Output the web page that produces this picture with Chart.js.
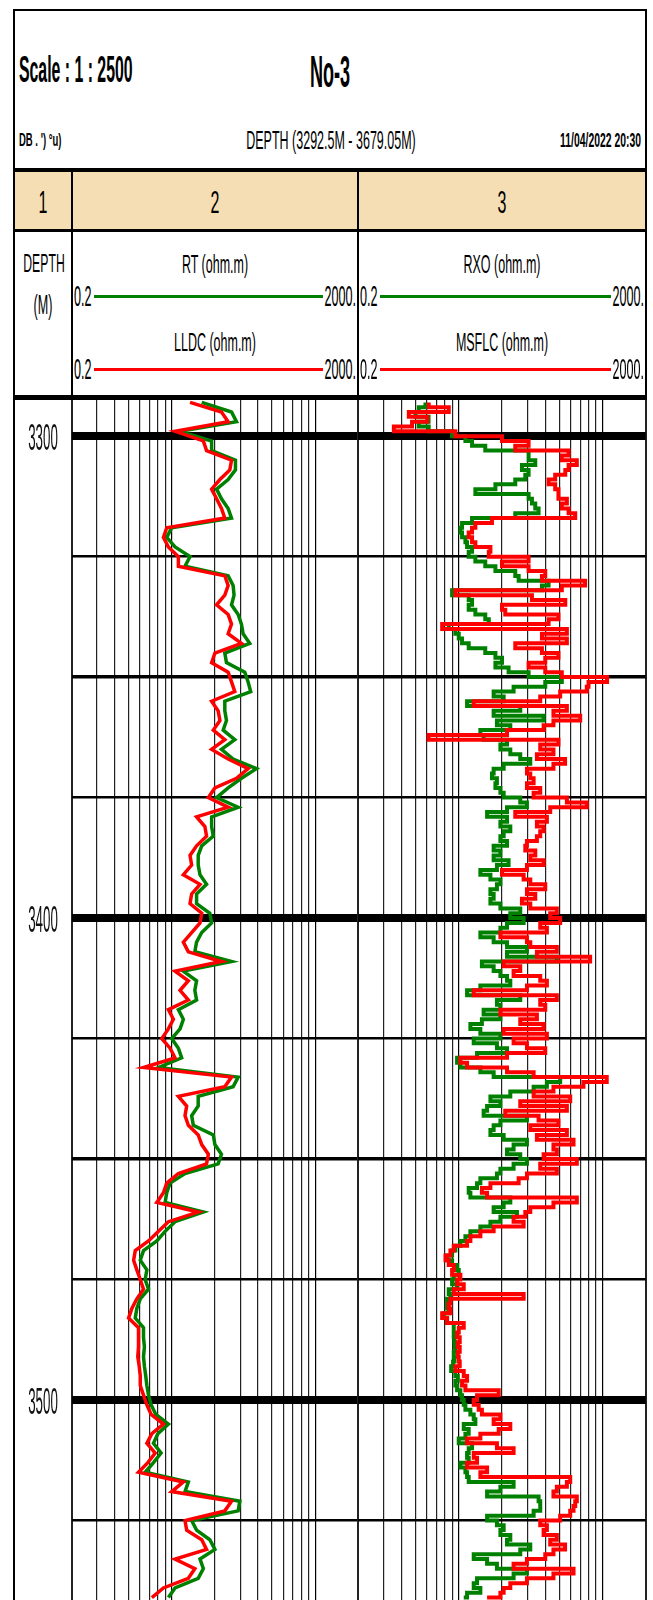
<!DOCTYPE html>
<html>
<head>
<meta charset="utf-8">
<script src="https://cdn.jsdelivr.net/npm/chart.js@4.4.1/dist/chart.umd.min.js"></script>
<style>
  html, body { margin: 0; padding: 0; background: #fff; }
  body { width: 653px; height: 1600px; position: relative; overflow: hidden;
         font-family: "Liberation Sans", Arial, sans-serif; color: #000; }
  .frame { position: absolute; left: 13px; top: 9px; width: 634px; height: 1640px;
           border: 2px solid #000; box-sizing: border-box; }
  .bar { position: absolute; background: #000; }
  .t { position: absolute; width: 400px; white-space: nowrap; line-height: 1; }
  .c { text-align: center; transform-origin: 50% 50%; }
  .l { text-align: left; transform-origin: 0 50%; }
  .r { text-align: right; transform-origin: 100% 50%; }
  canvas { position: absolute; top: 400px; }
</style>
</head>
<body>
<div class="frame"></div>
<canvas id="track12" width="360" height="1200" style="left:0px"></canvas>
<canvas id="track3" width="297" height="1200" style="left:356px"></canvas>
<script>
// ---- log data ----
// track 2 (RT / LLDC), sampled every 2 m
const DEPTH_2M = [
  3293, 3295, 3297, 3299, 3301, 3303, 3305, 3307, 3309, 3311,
  3313, 3315, 3317, 3319, 3321, 3323, 3325, 3327, 3329, 3331,
  3333, 3335, 3337, 3339, 3341, 3343, 3345, 3347, 3349, 3351,
  3353, 3355, 3357, 3359, 3361, 3363, 3365, 3367, 3369, 3371,
  3373, 3375, 3377, 3379, 3381, 3383, 3385, 3387, 3389, 3391,
  3393, 3395, 3397, 3399, 3401, 3403, 3405, 3407, 3409, 3411,
  3413, 3415, 3417, 3419, 3421, 3423, 3425, 3427, 3429, 3431,
  3433, 3435, 3437, 3439, 3441, 3443, 3445, 3447, 3449, 3451,
  3453, 3455, 3457, 3459, 3461, 3463, 3465, 3467, 3469, 3471,
  3473, 3475, 3477, 3479, 3481, 3483, 3485, 3487, 3489, 3491,
  3493, 3495, 3497, 3499, 3501, 3503, 3505, 3507, 3509, 3511,
  3513, 3515, 3517, 3519, 3521, 3523, 3525, 3527, 3529, 3531,
  3533, 3535, 3537, 3539, 3541
];
const RT = [
  13.1, 34.1, 40.0, 6.53, 18.0, 18.0, 38.7, 38.7, 30.6, 21.1,
  24.7, 30.6, 34.1, 5.0, 4.26, 5.56, 8.99, 7.66, 30.6, 35.9,
  37.0, 34.1, 42.2, 46.9, 49.5, 61.2, 27.5, 29.0, 52.2, 58.1,
  63.2, 27.5, 27.5, 29.0, 26.1, 37.9, 24.7, 35.9, 75.9, 46.9,
  30.6, 21.1, 42.2, 18.0, 18.0, 19.0, 13.1, 11.7, 11.7, 12.4,
  15.3, 11.1, 11.1, 17.0, 18.0, 13.1, 11.1, 10.5, 34.1, 7.26,
  11.1, 10.5, 11.1, 6.19, 7.26, 6.53, 5.0, 6.19, 6.88, 3.27,
  42.2, 35.9, 11.7, 11.7, 9.48, 10.0, 19.0, 20.0, 24.7, 22.2,
  7.66, 4.74, 4.26, 4.04, 13.8, 5.56, 4.04, 3.10, 2.02, 1.82,
  2.25, 2.13, 2.37, 1.82, 1.63, 1.55, 2.02, 2.02, 2.08, 2.02,
  2.08, 2.17, 2.25, 2.37, 2.58, 3.0, 4.49, 3.2, 2.78, 3.55,
  2.78, 2.13, 8.52, 7.66, 44.5, 42.2, 9.48, 11.1, 17.0, 20.0,
  12.4, 13.8, 11.7, 5.56, 4.49
];
const LLDC = [
  9.0, 24.7, 30.6, 5.56, 13.8, 15.3, 34.1, 32.3, 23.5, 18.0,
  21.1, 24.7, 27.5, 4.26, 3.83, 4.49, 6.19, 6.19, 27.5, 30.6,
  27.5, 21.1, 30.6, 34.1, 30.6, 46.9, 20.0, 18.0, 30.6, 34.1,
  37.9, 18.0, 22.2, 23.5, 19.0, 27.5, 18.0, 30.6, 58.1, 40.0,
  20.0, 16.2, 30.6, 11.1, 14.5, 15.3, 11.1, 8.99, 9.48, 7.26,
  12.4, 9.48, 8.99, 13.1, 12.4, 9.48, 7.26, 8.52, 24.7, 5.56,
  8.52, 6.53, 8.52, 4.49, 5.27, 4.49, 3.63, 4.74, 5.56, 2.02,
  34.1, 27.5, 6.19, 8.08, 7.66, 8.52, 11.7, 13.1, 16.2, 15.3,
  6.19, 4.26, 3.83, 3.10, 11.7, 4.49, 3.27, 2.37, 1.55, 1.47,
  1.63, 1.82, 2.02, 1.63, 1.39, 1.25, 1.72, 1.72, 1.72, 1.68,
  1.76, 1.82, 1.82, 2.02, 2.25, 2.58, 3.83, 2.64, 2.25, 2.94,
  2.32, 1.72, 7.26, 5.0, 34.1, 27.5, 7.66, 8.08, 13.1, 15.3,
  5.56, 10.5, 8.52, 3.83, 2.64
];

// track 3 (RXO / MSFLC), sampled every 1 m
const DEPTH_1M = [
  3293, 3294, 3295, 3296, 3297, 3298, 3299, 3300, 3301, 3302,
  3303, 3304, 3305, 3306, 3307, 3308, 3309, 3310, 3311, 3312,
  3313, 3314, 3315, 3316, 3317, 3318, 3319, 3320, 3321, 3322,
  3323, 3324, 3325, 3326, 3327, 3328, 3329, 3330, 3331, 3332,
  3333, 3334, 3335, 3336, 3337, 3338, 3339, 3340, 3341, 3342,
  3343, 3344, 3345, 3346, 3347, 3348, 3349, 3350, 3351, 3352,
  3353, 3354, 3355, 3356, 3357, 3358, 3359, 3360, 3361, 3362,
  3363, 3364, 3365, 3366, 3367, 3368, 3369, 3370, 3371, 3372,
  3373, 3374, 3375, 3376, 3377, 3378, 3379, 3380, 3381, 3382,
  3383, 3384, 3385, 3386, 3387, 3388, 3389, 3390, 3391, 3392,
  3393, 3394, 3395, 3396, 3397, 3398, 3399, 3400, 3401, 3402,
  3403, 3404, 3405, 3406, 3407, 3408, 3409, 3410, 3411, 3412,
  3413, 3414, 3415, 3416, 3417, 3418, 3419, 3420, 3421, 3422,
  3423, 3424, 3425, 3426, 3427, 3428, 3429, 3430, 3431, 3432,
  3433, 3434, 3435, 3436, 3437, 3438, 3439, 3440, 3441, 3442,
  3443, 3444, 3445, 3446, 3447, 3448, 3449, 3450, 3451, 3452,
  3453, 3454, 3455, 3456, 3457, 3458, 3459, 3460, 3461, 3462,
  3463, 3464, 3465, 3466, 3467, 3468, 3469, 3470, 3471, 3472,
  3473, 3474, 3475, 3476, 3477, 3478, 3479, 3480, 3481, 3482,
  3483, 3484, 3485, 3486, 3487, 3488, 3489, 3490, 3491, 3492,
  3493, 3494, 3495, 3496, 3497, 3498, 3499, 3500, 3501, 3502,
  3503, 3504, 3505, 3506, 3507, 3508, 3509, 3510, 3511, 3512,
  3513, 3514, 3515, 3516, 3517, 3518, 3519, 3520, 3521, 3522,
  3523, 3524, 3525, 3526, 3527, 3528, 3529, 3530, 3531, 3532,
  3533, 3534, 3535, 3536, 3537, 3538, 3539, 3540, 3541
];
const MSFLC = [
  1.91, 3.63, 1.01, 1.82, 1.12, 0.625, 4.49, 20.0, 46.9, 30.6,
  169, 136, 220, 169, 152, 110, 89, 110, 122, 122,
  160, 136, 169, 209, 14.5, 8.52, 7.66, 6.88, 7.66, 8.52,
  13.8, 13.1, 46.9, 20.0, 46.9, 80, 71.9, 287, 136, 4.49,
  52.2, 152, 20.0, 22.2, 122, 89, 2.94, 160, 71.9, 160,
  30.6, 71.9, 122, 80, 46.9, 80, 136, 580, 320, 303,
  129, 68.1, 8.08, 160, 104, 245, 104, 75.9, 23.5, 1.9,
  122, 68.1, 104, 61.2, 151, 104, 44.5, 49.5, 55.1, 44.5,
  68.1, 55.1, 160, 303, 93.8, 30.6, 84.3, 61.2, 75.9, 68.1,
  61.2, 44.5, 42.2, 58.1, 49.5, 75.9, 44.5, 20.0, 40.0, 49.5,
  80.0, 44.5, 58.1, 37.9, 49.5, 116, 93.8, 129, 68.1, 84.3,
  19.0, 44.5, 49.5, 116, 61.2, 337, 21.1, 35.9, 29.0, 68.1,
  84.3, 44.5, 8.08, 116, 68.1, 80.0, 19.0, 61.2, 35.9, 75.9,
  21.1, 84.3, 29.0, 44.5, 80.0, 23.5, 5.27, 6.53, 23.5, 55.1,
  574, 272, 104, 55.1, 178, 35.9, 160, 22.2, 64.6, 122,
  49.5, 160, 61.2, 198, 104, 116, 75.9, 220, 68.1, 116,
  44.5, 34.1, 13.8, 10.5, 12.4, 220, 104, 49.5, 42.2, 29.0,
  40.0, 15.3, 10.0, 7.26, 6.53, 4.26, 3.83, 3.27, 3.63, 4.26,
  4.04, 5.27, 4.74, 5.87, 4.26, 40.0, 3.83, 3.63, 3.83, 2.94,
  3.44, 5.87, 5.0, 4.74, 5.16, 4.85, 5.16, 4.85, 5.0, 5.16,
  4.49, 5.87, 6.53, 5.56, 6.19, 18.0, 8.99, 8.08, 9.48, 10.5,
  19.0, 15.3, 26.1, 18.0, 10.0, 6.53, 17.0, 29.0, 8.08, 8.99,
  6.53, 12.4, 10.0, 178, 160, 116, 104, 220, 209, 198,
  178, 129, 68.1, 84.3, 75.9, 116, 93.8, 151, 104, 80.0,
  44.5, 29.0, 198, 104, 44.5, 26.1, 21.1, 19.0, 12.4
];
const RXO = [
  1.72, 1.39, 1.25, 1.9, 1.39, 1.91, 4.04, 6.19, 7.66, 11.7,
  46.9, 46.9, 58.1, 37.9, 46.9, 42.2, 30.6, 16.2, 8.52, 46.9,
  52.2, 58.1, 64.6, 30.6, 7.66, 5.56, 5.27, 5.56, 6.19, 6.53,
  7.66, 6.88, 8.52, 11.7, 16.2, 30.6, 34.1, 89, 71.9, 4.04,
  6.88, 7.66, 6.88, 8.52, 11.7, 13.1, 3.63, 4.49, 5.0, 5.56,
  6.88, 11.7, 16.2, 20.0, 16.2, 24.7, 46.9, 136, 80, 29.0,
  15.3, 21.1, 6.53, 35.9, 15.3, 75.9, 17.0, 26.1, 10.0, 11.1,
  23.5, 19.0, 26.1, 35.9, 49.5, 21.1, 15.3, 14.5, 17.0, 16.2,
  19.0, 21.1, 35.9, 44.5, 23.5, 12.4, 23.5, 19.0, 26.1, 21.1,
  19.0, 23.5, 15.3, 19.0, 15.3, 24.7, 17.0, 10.0, 13.8, 19.0,
  17.0, 13.8, 15.3, 13.8, 19.0, 35.9, 26.1, 40.0, 23.5, 19.0,
  10.0, 15.3, 23.5, 44.5, 23.5, 116, 10.5, 15.3, 19.0, 23.5,
  26.1, 10.0, 6.53, 35.9, 17.0, 19.0, 11.1, 19.0, 10.5, 7.26,
  10.0, 19.0, 8.08, 17.0, 23.5, 8.99, 4.74, 5.27, 10.0, 15.3,
  129, 84.3, 55.1, 26.1, 13.8, 19.0, 12.4, 11.1, 44.5, 19.0,
  15.3, 13.8, 21.1, 44.5, 29.0, 23.5, 35.9, 44.5, 29.0, 19.0,
  17.0, 10.0, 8.99, 6.88, 7.26, 26.1, 21.1, 15.3, 32.3, 19.0,
  13.8, 10.0, 7.26, 6.19, 5.27, 4.49, 4.04, 3.44, 4.04, 4.74,
  5.0, 4.26, 4.04, 4.74, 3.63, 3.83, 3.44, 3.44, 3.63, 3.10,
  3.44, 4.26, 4.26, 4.26, 4.36, 4.40, 4.49, 4.26, 4.36, 4.17,
  3.92, 4.49, 4.85, 4.49, 4.74, 5.27, 5.56, 5.87, 6.19, 7.26,
  8.08, 8.52, 5.87, 6.88, 6.19, 5.0, 7.66, 6.88, 6.53, 6.88,
  5.27, 6.19, 6.53, 6.88, 29.0, 19.0, 12.4, 64.6, 68.1, 68.1,
  55.1, 12.4, 17.0, 21.1, 19.0, 26.1, 23.5, 49.5, 35.9, 8.08,
  12.4, 17.0, 44.5, 29.0, 8.99, 8.08, 10.0, 6.53, 5.87
];

// scales
const CURVE_MIN = 0.2, CURVE_MAX = 2000;        // header scale, ohm.m
const GRID_TICKS = [0.2, 0.3, 0.4, 0.5, 0.6, 0.7, 0.8, 0.9, 1,
                    2, 3, 4, 5, 6, 7, 8, 9, 10, 20];   // 2-cycle chart paper
const DEPTH_TOP = 3292.5, DEPTH_BOTTOM = 3541.5;
const DEPTH_TICKS = [3300, 3325, 3350, 3375, 3400, 3425, 3450, 3475, 3500, 3525];
const DEPTH_LABELS = [3300, 3400, 3500];

// ---- header (plain html) ----
function label(text, x, y, size, sx, align, weight) {
  const el = document.createElement('div');
  el.className = 't ' + align;
  el.textContent = text;
  const left = align === 'c' ? x - 200 : (align === 'l' ? x : x - 400);
  el.style.left = left + 'px';
  el.style.top = (y - size * 0.5) + 'px';
  el.style.fontSize = size + 'px';
  el.style.fontWeight = weight || 'normal';
  el.style.transform = 'scaleX(' + sx + ')';
  document.body.appendChild(el);
}
function bar(x, y, w, h, color) {
  const el = document.createElement('div');
  el.className = 'bar';
  el.style.left = x + 'px'; el.style.top = y + 'px';
  el.style.width = w + 'px'; el.style.height = h + 'px';
  if (color) el.style.background = color;
  document.body.appendChild(el);
}

bar(15, 172, 630, 57, '#f5deb3');
bar(13, 168, 634, 4);
bar(13, 229, 634, 3);
bar(13, 395, 634, 5);
bar(70.5, 168, 2, 232);
bar(357.3, 168, 2, 232);

label('Scale : 1 : 2500', 19, 70, 36, 0.44, 'l', 'bold');
label('No-3', 330, 72, 44, 0.41, 'c', 'bold');
label("DB . ') \u00b0u)", 19, 139, 19, 0.5, 'l', 'bold');
label('DEPTH (3292.5M - 3679.05M)', 331, 140, 25, 0.5, 'c');
label('11/04/2022 20:30', 641, 140, 20, 0.52, 'r', 'bold');

label('1', 42.7, 202, 32, 0.5, 'c');
label('2', 214.9, 202, 32, 0.5, 'c');
label('3', 502, 202, 32, 0.5, 'c');

label('DEPTH', 43.5, 263, 26, 0.47, 'c');
label('(M)', 43, 305, 28, 0.45, 'c');

// curve legends: [name, colour, track left, track right, title y, line y]
const LEGENDS = [
  ['RT (ohm.m)',    '#008000', 71.5, 358.3, 264, 296],
  ['LLDC (ohm.m)',  '#ff0000', 71.5, 358.3, 342, 369],
  ['RXO (ohm.m)',   '#008000', 358.3, 645.7, 264, 296],
  ['MSFLC (ohm.m)', '#ff0000', 358.3, 645.7, 342, 369]
];
LEGENDS.forEach(([name, color, l, r, ty, ly]) => {
  label(name, (l + r) / 2, ty, 26, 0.48, 'c');
  label(String(CURVE_MIN), l + 2, ly, 30, 0.42, 'l');
  label(CURVE_MAX + '.', r - 2, ly, 30, 0.42, 'r');
  bar(l + 22, ly - 1.5, r - l - 57, 3, color);
});

// ---- tracks ----
const depthLabels = {
  id: 'depthLabels',
  afterDraw(chart) {
    const y = chart.scales.y;
    const ctx = chart.ctx;
    ctx.save();
    ctx.fillStyle = '#111';
    ctx.font = '36px "Liberation Sans", Arial, sans-serif';
    ctx.textAlign = 'center';
    ctx.textBaseline = 'alphabetic';
    DEPTH_LABELS.forEach(d => {
      const py = y.getPixelForValue(d);
      ctx.save();
      ctx.translate(43, py + 14);
      ctx.scale(0.37, 1);
      ctx.fillText(String(d), 0, 0);
      ctx.restore();
    });
    ctx.restore();
  }
};

function curve(depths, values, color, stepped, width) {
  return {
    data: depths.map((d, i) => ({ x: values[i], y: d })),
    borderColor: color,
    backgroundColor: color,
    borderWidth: width,
    stepped: stepped,
    tension: 0,
    pointRadius: 0,
    fill: false,
    xAxisID: 'xd',
    yAxisID: 'y'
  };
}

function makeTrack(canvasId, datasets, axisWidth, padding, plugins) {
  return new Chart(document.getElementById(canvasId), {
    type: 'line',
    data: { datasets },
    options: {
      responsive: false,
      animation: false,
      events: [],
      layout: { padding },
      plugins: { legend: { display: false }, tooltip: { enabled: false } },
      scales: {
        x: {
          type: 'logarithmic',
          min: GRID_TICKS[0],
          max: GRID_TICKS[GRID_TICKS.length - 1],
          afterBuildTicks: s => { s.ticks = GRID_TICKS.map(v => ({ value: v })); },
          afterFit: s => { s.height = 0; },
          ticks: { display: false, autoSkip: false },
          border: { display: false },
          grid: {
            drawTicks: false,
            color: c => (c.tick.value === 1 || c.tick.value === 10) ? '#000' : '#222',
            lineWidth: c => (c.tick.value === 0.2 || c.tick.value === 20) ? 2 : 1.2
          }
        },
        xd: { type: 'logarithmic', min: CURVE_MIN, max: CURVE_MAX, display: false },
        y: {
          type: 'linear',
          reverse: true,
          min: DEPTH_TOP,
          max: DEPTH_BOTTOM,
          afterBuildTicks: s => { s.ticks = DEPTH_TICKS.map(v => ({ value: v })); },
          afterFit: s => { s.width = axisWidth; },
          ticks: { display: false, autoSkip: false },
          border: { display: false },
          grid: {
            drawTicks: false,
            color: '#000',
            lineWidth: c => c.tick.value % 100 === 0 ? 8 : (c.tick.value % 50 === 0 ? 3.5 : 2.5)
          }
        }
      }
    },
    plugins: plugins || []
  });
}

// first dataset is painted last, so red sits on top of green
makeTrack('track12', [
  curve(DEPTH_2M, LLDC, '#ff0000', false, 3.5),
  curve(DEPTH_2M, RT, '#008000', false, 3.5)
], 56.5, { left: 15, right: 1.7, top: 0, bottom: 0 }, [depthLabels]);

makeTrack('track3', [
  curve(DEPTH_1M, MSFLC, '#ff0000', 'after', 4),
  curve(DEPTH_1M, RXO, '#008000', 'after', 4)
], 0, { left: 2.3, right: 7.3, top: 0, bottom: 0 });
</script>
</body>
</html>
